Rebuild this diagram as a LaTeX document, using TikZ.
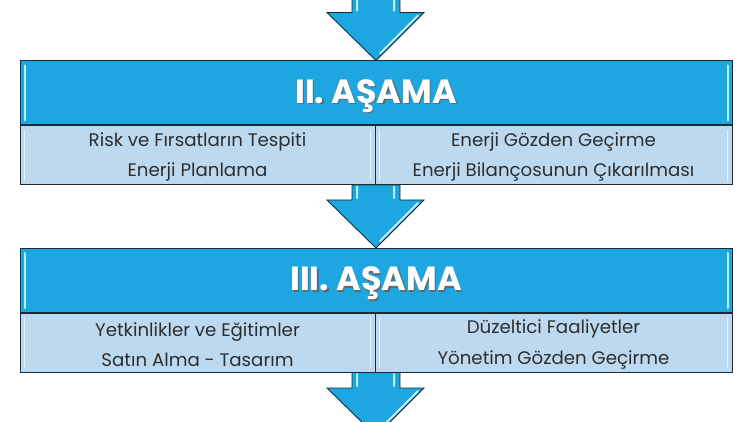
\documentclass[tikz,border=0pt]{standalone}
\usepackage{fontspec}
\setmainfont{Poppins}
\usetikzlibrary{calc}
\definecolor{hdr}{HTML}{1EA6E0}
\definecolor{subc}{HTML}{BDD9EF}
\definecolor{edge}{HTML}{1E2A33}
\definecolor{txt}{HTML}{2E2E2E}
\definecolor{hilite}{HTML}{B8F1FC}
\tikzset{
  hdrbox/.style={draw=edge, line width=1pt, fill=hdr, minimum width=712pt, minimum height=64pt, inner sep=0pt},
  hdrtext/.style={text=white, font=\bfseries\fontsize{33.5}{36}\selectfont},
  hdrshadow/.style={text=black!60, font=\bfseries\fontsize{33.5}{36}\selectfont},
  subbox/.style={draw=edge, line width=1pt, fill=subc, minimum height=59pt, inner sep=0pt},
  subtext/.style={text=txt, align=center, font=\fontsize{18.2}{30.5}\selectfont},
  blk/.style={fill=hdr, draw=edge, line width=0.9pt, line join=miter},
  hiline/.style={draw=hilite, line width=2pt, line cap=round},
  softline/.style={draw=white, line width=1.8pt, line cap=round, opacity=0.75}
}
\newcommand\blkarrow[2]{%
  \path[blk] let \p1=(#1), \p2=(#2) in
    (\x2-24pt,\y1) -- (\x2-24pt,\y2+48pt) -- (\x2-49pt,\y2+48pt) -- (\x2,\y2)
    -- (\x2+48pt,\y2+48pt) -- (\x2+24pt,\y2+48pt) -- (\x2+24pt,\y1) -- cycle;
  \draw[hiline] let \p1=(#1), \p2=(#2) in
    (\x2-19pt,\y1-1.5pt) -- (\x2-19pt,\y2+50pt)
    (\x2+18pt,\y1-1.5pt) -- (\x2+18pt,\y2+50pt)
    (\x2+42pt,\y2+45pt) -- (\x2+4pt,\y2+7pt);
}
\begin{document}
\begin{tikzpicture}[x=1pt,y=-1pt]
\useasboundingbox (0,0) rectangle (750,422);
\clip (0,0) rectangle (750,422);
\fill[white] (0,0) rectangle (750,422);
% stage II
\node[hdrbox] (h2) at (376,93) {};
\node[subbox, minimum width=355pt] (s2l) at (197.5,155) {};
\node[subbox, minimum width=357pt] (s2r) at (553.5,155) {};
\node[hdrshadow] at (377.5,97.5) {II. AŞAMA};
\node[hdrtext] (t2) at (376,96) {II. AŞAMA};
\node[subtext] (u2l) at (197.5,157) {Risk ve Fırsatların Tespiti\\Enerji Planlama};
\node[subtext] (u2r) at (553.5,157) {Enerji Gözden Geçirme\\Enerji Bilançosunun Çıkarılması};
% stage III
\node[hdrbox] (h3) at (376,280.5) {};
\node[subbox, minimum width=355pt] (s3l) at (197.5,342.5) {};
\node[subbox, minimum width=357pt] (s3r) at (553.5,342.5) {};
\node[hdrshadow] at (377.5,285) {III. AŞAMA};
\node[hdrtext] (t3) at (376,283.5) {III. AŞAMA};
\node[subtext] (u3l) at (197.5,344.5) {Yetkinlikler ve Eğitimler\\Satın Alma - Tasarım};
\node[subtext] (u3r) at (553.5,344.5) {Düzeltici Faaliyetler\\Yönetim Gözden Geçirme};
% bevel highlights
\foreach \n in {h2,h3}{
  \draw[hiline] ($(\n.north west)+(5,5)$) -- ($(\n.south west)+(5,-5)$);
  \draw[hiline] ($(\n.north east)+(-5,5)$) -- ($(\n.south east)+(-5,-5)$);
}
\foreach \n in {s2l,s2r,s3l,s3r}{
  \draw[softline] ($(\n.north west)+(5,6)$) -- ($(\n.south west)+(5,-6)$);
  \draw[softline] ($(\n.north east)+(-5,6)$) -- ($(\n.south east)+(-5,-6)$);
}
% arrows
\coordinate (top) at (376,-5);
\coordinate (bot) at (376,436);
\blkarrow{top}{h2.north}
\blkarrow{s2l.south east}{h3.north}
\blkarrow{s3l.south east}{bot}
\end{tikzpicture}
\end{document}
